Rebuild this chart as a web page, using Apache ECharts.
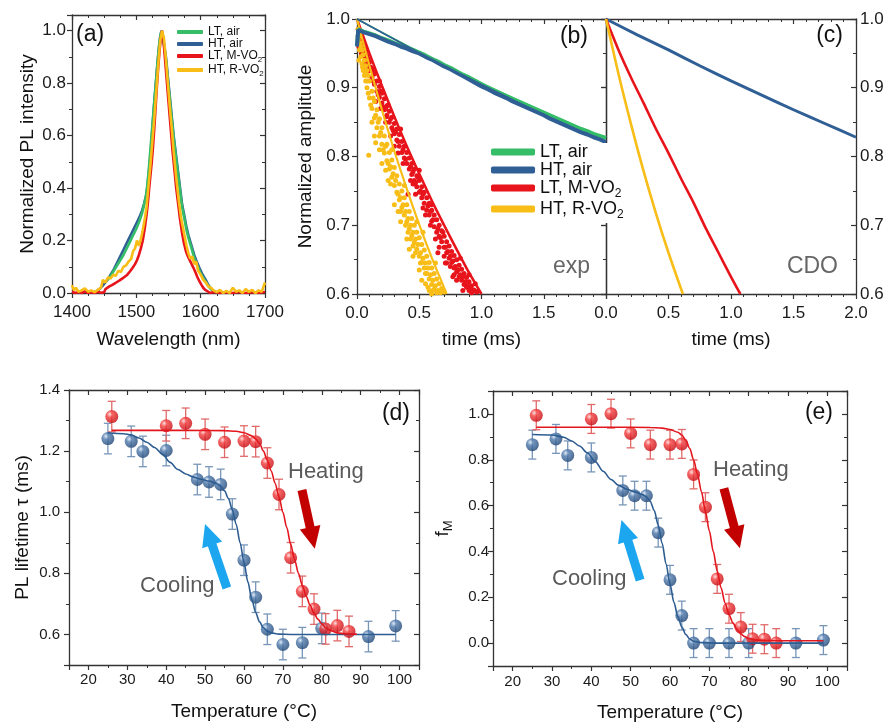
<!DOCTYPE html>
<html>
<head>
<meta charset="utf-8">
<title>PL spectra, decay and lifetime vs temperature</title>
<script src="https://cdn.jsdelivr.net/npm/echarts@6.0.0/dist/echarts.min.js"></script>
<style>
  html, body { margin: 0; padding: 0; background: #fff; }
  #chart { width: 887px; height: 723px; }
</style>
</head>
<body>
<div id="chart"></div>
<script>
  // ---- (a) PL spectra [wavelength nm, normalized intensity]
  const specHTair = [[1430,0.0],[1435,0.003],[1440,0.01],[1445,0.02],[1450,0.035],[1455,0.05],[1460,0.07],[1465,0.09],[1470,0.115],[1475,0.14],[1480,0.165],[1485,0.19],[1490,0.215],[1495,0.24],[1500,0.265],[1505,0.29],[1509,0.315],[1512,0.34],[1515,0.37],[1517,0.4],[1519,0.45],[1521,0.5],[1523,0.56],[1525,0.63],[1527,0.7],[1529,0.76],[1531,0.82],[1533,0.88],[1535,0.93],[1537,0.975],[1539,1.0],[1541,0.985],[1543,0.95],[1546,0.9],[1548,0.85],[1550,0.8],[1552,0.75],[1554,0.7],[1556,0.65],[1558,0.6],[1561,0.54],[1563,0.5],[1566,0.44],[1568,0.4],[1571,0.34],[1575,0.29],[1578,0.25],[1581,0.22],[1584,0.195],[1587,0.17],[1590,0.145],[1593,0.125],[1596,0.108],[1599,0.09],[1602,0.075],[1606,0.058],[1609,0.045],[1612,0.03],[1615,0.02],[1619,0.01],[1622,0.004],[1626,0.0]];
  const specLTair = [[1455,0.05],[1460,0.065],[1465,0.085],[1470,0.105],[1475,0.125],[1480,0.145],[1485,0.17],[1490,0.195],[1495,0.22],[1500,0.245],[1505,0.275],[1509,0.305],[1512,0.335],[1515,0.37],[1517,0.41],[1519,0.46],[1521,0.52],[1523,0.58],[1525,0.64],[1527,0.7],[1529,0.76],[1531,0.82],[1533,0.88],[1535,0.935],[1537,0.975],[1539,0.998],[1541,0.98],[1543,0.945],[1546,0.89],[1548,0.84],[1550,0.79],[1552,0.74],[1554,0.69],[1556,0.64],[1558,0.59],[1561,0.53],[1563,0.49],[1566,0.43],[1568,0.39],[1571,0.33],[1575,0.28],[1578,0.24],[1581,0.21],[1584,0.185],[1587,0.16],[1590,0.135],[1593,0.115],[1596,0.098],[1599,0.08],[1602,0.066],[1606,0.05],[1609,0.038],[1612,0.026],[1615,0.017],[1619,0.008],[1622,0.003]];
  const specLTMVO2 = [[1400,0.005],[1405,0.0],[1410,0.004],[1415,0.0],[1420,0.006],[1425,0.0],[1430,0.003],[1435,0.0],[1440,0.005],[1445,0.001],[1450,0.003],[1452,0.015],[1455,0.02],[1458,0.025],[1462,0.03],[1466,0.036],[1470,0.042],[1474,0.048],[1478,0.055],[1482,0.062],[1486,0.07],[1490,0.082],[1494,0.095],[1498,0.11],[1501,0.125],[1504,0.145],[1507,0.17],[1510,0.2],[1513,0.245],[1516,0.3],[1518,0.345],[1520,0.4],[1522,0.45],[1524,0.5],[1526,0.56],[1528,0.63],[1530,0.71],[1532,0.79],[1534,0.86],[1536,0.92],[1538,0.97],[1540,1.0],[1542,0.97],[1544,0.91],[1546,0.85],[1548,0.79],[1550,0.73],[1552,0.67],[1554,0.61],[1556,0.55],[1558,0.5],[1560,0.45],[1562,0.4],[1565,0.34],[1568,0.28],[1571,0.23],[1574,0.19],[1577,0.16],[1580,0.14],[1583,0.125],[1586,0.11],[1589,0.095],[1592,0.078],[1595,0.06],[1598,0.045],[1601,0.032],[1604,0.02],[1607,0.012],[1610,0.005],[1615,0.0],[1620,0.004],[1630,0.0],[1640,0.003],[1650,0.0],[1660,0.004],[1670,0.0],[1680,0.003],[1690,0.0],[1700,0.004]];
  const specHTRVO2 = [[1400,0.03],[1403,0.01],[1406,0.02],[1410,0.005],[1415,0.01],[1420,0.018],[1425,0.005],[1430,0.01],[1435,0.003],[1440,0.012],[1445,0.02],[1448,0.05],[1452,0.04],[1456,0.06],[1460,0.055],[1464,0.07],[1468,0.065],[1472,0.085],[1476,0.08],[1480,0.1],[1484,0.105],[1488,0.12],[1492,0.13],[1495,0.16],[1498,0.17],[1501,0.2],[1504,0.18],[1507,0.205],[1510,0.24],[1513,0.28],[1516,0.33],[1519,0.41],[1522,0.49],[1525,0.58],[1528,0.67],[1531,0.77],[1534,0.87],[1537,0.96],[1540,1.0],[1543,0.97],[1546,0.89],[1549,0.8],[1552,0.71],[1555,0.63],[1558,0.54],[1562,0.44],[1566,0.35],[1570,0.28],[1574,0.23],[1578,0.18],[1581,0.15],[1584,0.13],[1587,0.14],[1590,0.11],[1593,0.12],[1596,0.085],[1600,0.07],[1604,0.05],[1608,0.04],[1612,0.025],[1616,0.02],[1620,0.01],[1625,0.003],[1630,0.012],[1635,0.0],[1640,0.008],[1645,0.0],[1650,0.02],[1655,0.005],[1660,0.01],[1665,0.0],[1670,0.015],[1675,0.004],[1680,0.012],[1685,0.0],[1690,0.01],[1695,0.005],[1700,0.04]];

  // ---- (b) measured decays [time ms, normalized amplitude]
  const expLTair = [[0,0.962],[0.01,0.985],[0.05,0.982],[0.1,0.979],[0.15,0.976],[0.2,0.972],[0.25,0.969],[0.3,0.965],[0.35,0.962],[0.4,0.958],[0.45,0.955],[0.5,0.951],[0.55,0.947],[0.6,0.942],[0.65,0.938],[0.7,0.933],[0.75,0.929],[0.8,0.924],[0.85,0.919],[0.9,0.915],[0.95,0.91],[1.0,0.905],[1.05,0.9],[1.1,0.896],[1.15,0.892],[1.2,0.888],[1.25,0.884],[1.3,0.88],[1.35,0.876],[1.4,0.872],[1.45,0.868],[1.5,0.864],[1.55,0.86],[1.6,0.856],[1.65,0.852],[1.7,0.848],[1.75,0.844],[1.8,0.84],[1.85,0.837],[1.9,0.833],[1.95,0.83],[2.0,0.827]];
  const expHTair = [[0,0.96],[0.01,0.984],[0.05,0.981],[0.1,0.978],[0.15,0.975],[0.2,0.971],[0.25,0.967],[0.3,0.964],[0.35,0.96],[0.4,0.957],[0.45,0.953],[0.5,0.95],[0.55,0.945],[0.6,0.941],[0.65,0.936],[0.7,0.931],[0.75,0.927],[0.8,0.922],[0.85,0.917],[0.9,0.912],[0.95,0.907],[1.0,0.902],[1.05,0.898],[1.1,0.893],[1.15,0.889],[1.2,0.885],[1.25,0.88],[1.3,0.876],[1.35,0.872],[1.4,0.868],[1.45,0.864],[1.5,0.86],[1.55,0.855],[1.6,0.851],[1.65,0.847],[1.7,0.843],[1.75,0.839],[1.8,0.835],[1.85,0.832],[1.9,0.828],[1.95,0.825],[2.0,0.821]];
  const fitLTair = [[0,1.0],[0.5,0.952],[1.0,0.907],[1.5,0.865],[2.0,0.826]];
  const fitHTair = [[0,1.0],[0.5,0.951],[1.0,0.905],[1.5,0.861],[2.0,0.82]];
  const expLTMVO2 = [[0.01,0.985],[0.01,0.975],[0.02,0.97],[0.02,0.98],[0.03,0.962],[0.03,0.975],[0.04,0.958],[0.04,0.968],[0.05,0.952],[0.05,0.963],[0.05,0.93],[0.06,0.946],[0.06,0.958],[0.07,0.94],[0.07,0.953],[0.08,0.936],[0.08,0.947],[0.09,0.93],[0.09,0.942],[0.1,0.925],[0.1,0.937],[0.12,0.915],[0.12,0.928],[0.14,0.905],[0.14,0.92],[0.15,0.88],[0.16,0.895],[0.16,0.91],[0.18,0.886],[0.18,0.902],[0.18,0.91],[0.2,0.878],[0.2,0.892],[0.22,0.868],[0.22,0.884],[0.24,0.86],[0.24,0.874],[0.25,0.875],[0.26,0.85],[0.26,0.866],[0.28,0.842],[0.28,0.857],[0.3,0.833],[0.3,0.848],[0.3,0.815],[0.32,0.824],[0.32,0.84],[0.34,0.815],[0.34,0.832],[0.35,0.84],[0.36,0.806],[0.36,0.822],[0.38,0.798],[0.38,0.815],[0.4,0.79],[0.4,0.806],[0.41,0.745],[0.42,0.782],[0.42,0.798],[0.44,0.774],[0.44,0.79],[0.45,0.76],[0.46,0.765],[0.46,0.782],[0.48,0.756],[0.48,0.772],[0.5,0.748],[0.5,0.765],[0.5,0.78],[0.52,0.74],[0.52,0.756],[0.54,0.732],[0.54,0.748],[0.55,0.715],[0.56,0.722],[0.56,0.74],[0.58,0.715],[0.58,0.732],[0.6,0.706],[0.6,0.722],[0.6,0.73],[0.62,0.698],[0.62,0.715],[0.63,0.68],[0.64,0.69],[0.64,0.708],[0.66,0.684],[0.66,0.7],[0.66,0.668],[0.68,0.676],[0.68,0.692],[0.69,0.69],[0.7,0.668],[0.7,0.684],[0.7,0.655],[0.72,0.66],[0.72,0.676],[0.72,0.645],[0.74,0.652],[0.74,0.67],[0.75,0.64],[0.76,0.646],[0.76,0.662],[0.78,0.638],[0.78,0.656],[0.78,0.628],[0.8,0.632],[0.8,0.65],[0.8,0.62],[0.82,0.625],[0.82,0.642],[0.83,0.652],[0.84,0.62],[0.84,0.636],[0.85,0.605],[0.86,0.614],[0.86,0.63],[0.88,0.61],[0.88,0.624],[0.9,0.605],[0.9,0.618],[0.9,0.628],[0.92,0.602],[0.92,0.612],[0.94,0.606],[0.95,0.615],[0.96,0.603],
    [0.015,0.96],[0.035,0.95],[0.065,0.935],[0.085,0.925],[0.11,0.93],[0.13,0.91],[0.135,0.925],[0.17,0.89],[0.19,0.895],[0.21,0.872],[0.23,0.87],[0.235,0.858],[0.27,0.855],[0.29,0.838],[0.31,0.836],[0.33,0.822],[0.37,0.81],[0.39,0.796],[0.43,0.785],[0.45,0.778],[0.47,0.762],[0.49,0.77],[0.51,0.75],[0.53,0.745],[0.57,0.728],[0.59,0.72],[0.61,0.708],[0.65,0.695],[0.67,0.682],[0.71,0.668],[0.73,0.662],[0.75,0.655],[0.77,0.648],[0.79,0.64],[0.81,0.635],[0.83,0.628],[0.85,0.625],[0.87,0.618],[0.89,0.612],[0.91,0.61],[0.93,0.605],[0.97,0.604],[0.77,0.625],[0.71,0.645],[0.65,0.66],[0.59,0.7],[0.53,0.725],[0.47,0.745],[0.43,0.765],[0.37,0.79],[0.33,0.805],[0.27,0.83],[0.23,0.85],[0.19,0.87]];
  const expHTRVO2 = [[0.01,0.97],[0.01,0.985],[0.02,0.955],[0.02,0.975],[0.03,0.945],[0.03,0.96],[0.04,0.935],[0.04,0.955],[0.05,0.925],[0.05,0.948],[0.06,0.918],[0.06,0.94],[0.07,0.91],[0.07,0.932],[0.08,0.9],[0.08,0.925],[0.09,0.892],[0.09,0.918],[0.094,0.802],[0.1,0.885],[0.1,0.91],[0.12,0.87],[0.12,0.895],[0.12,0.85],[0.14,0.856],[0.14,0.88],[0.15,0.82],[0.16,0.842],[0.16,0.868],[0.18,0.83],[0.18,0.855],[0.2,0.818],[0.2,0.842],[0.2,0.79],[0.22,0.805],[0.22,0.83],[0.24,0.794],[0.24,0.818],[0.25,0.765],[0.26,0.782],[0.26,0.806],[0.28,0.77],[0.28,0.795],[0.28,0.81],[0.3,0.758],[0.3,0.784],[0.3,0.73],[0.32,0.748],[0.32,0.772],[0.33,0.72],[0.34,0.737],[0.34,0.76],[0.35,0.705],[0.36,0.726],[0.36,0.75],[0.38,0.715],[0.38,0.74],[0.38,0.758],[0.4,0.705],[0.4,0.73],[0.4,0.68],[0.42,0.695],[0.42,0.72],[0.42,0.665],[0.44,0.685],[0.44,0.71],[0.45,0.655],[0.46,0.675],[0.46,0.7],[0.48,0.665],[0.48,0.69],[0.48,0.705],[0.5,0.655],[0.5,0.682],[0.5,0.635],[0.52,0.646],[0.52,0.672],[0.52,0.62],[0.53,0.69],[0.54,0.638],[0.54,0.664],[0.55,0.615],[0.56,0.63],[0.56,0.655],[0.58,0.622],[0.58,0.646],[0.58,0.605],[0.6,0.614],[0.6,0.638],[0.6,0.6],[0.62,0.607],[0.62,0.63],[0.63,0.645],[0.64,0.602],[0.64,0.622],[0.66,0.615],[0.68,0.608],[0.7,0.603],
    [0.015,0.94],[0.025,0.965],[0.045,0.93],[0.065,0.92],[0.085,0.91],[0.11,0.875],[0.13,0.885],[0.15,0.86],[0.17,0.85],[0.19,0.835],[0.21,0.81],[0.23,0.815],[0.25,0.79],[0.27,0.785],[0.29,0.775],[0.31,0.765],[0.33,0.745],[0.35,0.74],[0.37,0.73],[0.39,0.72],[0.41,0.71],[0.43,0.7],[0.45,0.69],[0.47,0.68],[0.49,0.672],[0.51,0.66],[0.53,0.652],[0.55,0.645],[0.57,0.638],[0.59,0.628],[0.61,0.62],[0.63,0.612],[0.65,0.605],[0.67,0.602],[0.43,0.68],[0.47,0.66],[0.51,0.645],[0.55,0.63],[0.39,0.7],[0.35,0.72],[0.27,0.76],[0.23,0.78],[0.18,0.81],[0.14,0.83],[0.57,0.61],[0.61,0.605],[0.45,0.67],[0.41,0.69]];
  const fitLTMVO2 = [[0,1.0],[0.1,0.95],[0.2,0.903],[0.3,0.858],[0.4,0.815],[0.5,0.775],[0.6,0.736],[0.7,0.7],[0.8,0.665],[0.9,0.631],[1.0,0.6]];
  const fitHTRVO2 = [[0,1.0],[0.1,0.932],[0.2,0.868],[0.3,0.808],[0.4,0.753],[0.5,0.701],[0.6,0.653],[0.7,0.609],[0.72,0.6]];

  // ---- (c) CDO model decays
  const cdoHTair = [[0,1.0],[0.25,0.977],[0.5,0.955],[0.75,0.932],[1.0,0.91],[1.25,0.889],[1.5,0.868],[1.75,0.848],[2.0,0.828]];
  const cdoLTMVO2 = [[0,1.0],[0.1,0.955],[0.2,0.915],[0.3,0.878],[0.4,0.84],[0.5,0.805],[0.6,0.768],[0.7,0.733],[0.8,0.695],[0.9,0.66],[1.0,0.625],[1.075,0.6]];
  const cdoHTRVO2 = [[0,1.0],[0.1,0.92],[0.2,0.847],[0.3,0.779],[0.4,0.717],[0.5,0.66],[0.615,0.6]];

  // ---- (d), (e) temperature cycles
  const heatTemp = [26, 40, 45, 50, 55, 60, 63, 66, 69, 72, 75, 78, 81, 84, 87];
  const coolTemp = [25, 31, 34, 40, 48, 51, 54, 57, 60, 63, 66, 70, 75, 80, 92, 99];
  const tauHeat = [1.313, 1.283, 1.291, 1.255, 1.229, 1.233, 1.231, 1.161, 1.058, 0.851, 0.741, 0.683, 0.618, 0.629, 0.610];
  const tauCool = [1.241, 1.232, 1.199, 1.202, 1.107, 1.099, 1.091, 0.994, 0.843, 0.722, 0.617, 0.567, 0.573, 0.620, 0.593, 0.628];
  const tauHeatErr = [0.05, 0.05, 0.05, 0.05, 0.05, 0.05, 0.05, 0.05, 0.05, 0.05, 0.05, 0.05, 0.05, 0.05, 0.05];
  const tauCoolErr = [0.05, 0.05, 0.05, 0.05, 0.05, 0.05, 0.05, 0.05, 0.05, 0.05, 0.05, 0.05, 0.05, 0.05, 0.05, 0.05];
  const fmHeat = [0.994, 0.978, 1.001, 0.915, 0.866, 0.866, 0.869, 0.736, 0.593, 0.28, 0.15, 0.07, 0.019, 0.017, 0.0];
  const fmCool = [0.866, 0.891, 0.819, 0.81, 0.666, 0.643, 0.643, 0.482, 0.276, 0.12, 0.0, 0.0, 0.0, 0.0, 0.0, 0.013];
  const fmHeatErr = [0.063, 0.063, 0.063, 0.063, 0.063, 0.063, 0.063, 0.063, 0.063, 0.063, 0.063, 0.063, 0.063, 0.063, 0.063];
  const fmCoolErr = [0.063, 0.063, 0.063, 0.063, 0.063, 0.063, 0.063, 0.063, 0.063, 0.063, 0.063, 0.063, 0.063, 0.063, 0.063, 0.063];
  const tauHeatFit = [[26,1.268],[35,1.268],[45,1.268],[55,1.267],[58,1.265],[60,1.26],[62,1.25],[63,1.24],[64,1.225],[65,1.2],[66,1.17],[67,1.135],[68,1.095],[69,1.05],[70,1.0],[71,0.95],[72,0.895],[73,0.845],[74,0.8],[75,0.76],[76,0.725],[77,0.695],[78,0.67],[79,0.65],[80,0.635],[81,0.622],[82,0.614],[84,0.605],[86,0.602],[89,0.601]];
  const tauCoolFit = [[25,1.26],[29,1.257],[31,1.253],[33,1.243],[35,1.229],[37,1.212],[39,1.19],[41,1.163],[43,1.14],[45,1.125],[47,1.115],[49,1.108],[51,1.102],[53,1.094],[54,1.085],[55,1.07],[56,1.045],[57,1.008],[58,0.96],[59,0.9],[60,0.835],[61,0.772],[62,0.715],[63,0.672],[64,0.641],[65,0.622],[66,0.611],[67,0.605],[69,0.601],[72,0.6],[99,0.6]];
  const fmHeatFit = [[26,0.942],[35,0.942],[45,0.942],[55,0.941],[58,0.938],[60,0.932],[62,0.92],[63,0.908],[64,0.885],[65,0.85],[66,0.8],[67,0.735],[68,0.66],[69,0.575],[70,0.49],[71,0.4],[72,0.315],[73,0.24],[74,0.175],[75,0.125],[76,0.088],[77,0.06],[78,0.04],[79,0.028],[80,0.02],[82,0.013],[85,0.011],[90,0.01],[99,0.01]];
  const fmCoolFit = [[25,0.91],[30,0.908],[33,0.898],[35,0.882],[37,0.86],[39,0.83],[41,0.792],[43,0.75],[45,0.714],[47,0.688],[49,0.671],[51,0.66],[53,0.648],[54,0.638],[55,0.618],[56,0.578],[57,0.515],[58,0.435],[59,0.345],[60,0.258],[61,0.178],[62,0.115],[63,0.07],[64,0.038],[65,0.018],[66,0.008],[68,0.002],[72,0],[99,0]];

  const FONT = "'Liberation Sans', Arial, sans-serif";
  const GREEN = '#35bd68', BLUE = '#2f5f95', RED = '#e8141c', YELLOW = '#f8bd16';

  const chart = echarts.init(document.getElementById('chart'), null, { renderer: 'canvas' });

  const fmt1 = v => v.toFixed(1);

  function mkAxis(o) {
    const mirror = o.pos === 'top' || o.pos === 'right';
    return {
      type: 'value', gridIndex: o.grid, position: o.pos,
      min: o.min, max: o.max, interval: o.interval, splitNumber: o.split,
      name: o.name || '', nameLocation: 'middle', nameGap: o.nameGap || 0,
      nameTextStyle: { fontSize: 19, color: '#111', fontFamily: FONT, rich: o.rich },
      axisLine: { show: true, onZero: false, lineStyle: { color: '#333', width: 1.3 } },
      axisTick: { show: true, inside: mirror, length: 5, lineStyle: { color: '#333', width: 1.2 } },
      minorTick: { show: true, splitNumber: o.minor, length: 3, lineStyle: { color: '#333', width: 1 } },
      splitLine: { show: false },
      axisLabel: {
        show: !!o.labels, formatter: o.fmt, showMaxLabel: o.showMax,
        color: '#1a1a1a', fontSize: o.fs || 17, fontFamily: FONT, margin: o.margin || 8
      }
    };
  }

  const xAxes = [
    mkAxis({ grid: 0, pos: 'bottom', min: 1400, max: 1700, interval: 100, minor: 4, labels: true, margin: 11, fmt: v => String(v), name: 'Wavelength (nm)', nameGap: 37 }),
    mkAxis({ grid: 1, pos: 'bottom', min: 0, max: 2, interval: 0.5, minor: 5, labels: true, margin: 11, fmt: fmt1, showMax: false, name: 'time (ms)', nameGap: 36 }),
    mkAxis({ grid: 2, pos: 'bottom', min: 0, max: 2, interval: 0.5, minor: 5, labels: true, margin: 11, fmt: fmt1, name: 'time (ms)', nameGap: 36 }),
    mkAxis({ grid: 3, pos: 'bottom', min: 15, max: 105, split: 9, minor: 2, labels: true, fs: 15, margin: 7, fmt: v => (v < 16 || v > 104 ? '' : String(v)), name: 'Temperature (°C)', nameGap: 37 }),
    mkAxis({ grid: 4, pos: 'bottom', min: 15, max: 105, split: 9, minor: 2, labels: true, fs: 15, margin: 8, fmt: v => (v < 16 || v > 104 ? '' : String(v)), name: 'Temperature (°C)', nameGap: 37 }),
    mkAxis({ grid: 0, pos: 'top', min: 1400, max: 1700, interval: 100, minor: 4 }),
    mkAxis({ grid: 1, pos: 'top', min: 0, max: 2, interval: 0.5, minor: 5 }),
    mkAxis({ grid: 2, pos: 'top', min: 0, max: 2, interval: 0.5, minor: 5 }),
    mkAxis({ grid: 3, pos: 'top', min: 15, max: 105, split: 9, minor: 2 }),
    mkAxis({ grid: 4, pos: 'top', min: 15, max: 105, split: 9, minor: 2 })
  ];
  const yAxes = [
    mkAxis({ grid: 0, pos: 'left', min: 0, max: 1.06, interval: 0.2, minor: 2, labels: true, margin: 6, fmt: v => (v > 1.01 ? '' : v.toFixed(1)), name: 'Normalized PL intensity', nameGap: 35 }),
    mkAxis({ grid: 1, pos: 'left', min: 0.6, max: 1.0, interval: 0.1, minor: 2, labels: true, margin: 7, fmt: fmt1, name: 'Normalized amplitude', nameGap: 42 }),
    mkAxis({ grid: 2, pos: 'left', min: 0.6, max: 1.0, interval: 0.1, minor: 2 }),
    mkAxis({ grid: 3, pos: 'left', min: 0.5, max: 1.4, split: 4, minor: 2, labels: true, fs: 15, margin: 9, fmt: v => (v < 0.55 ? '' : v.toFixed(1)), name: 'PL lifetime τ (ms)', nameGap: 37 }),
    mkAxis({ grid: 4, pos: 'left', min: -0.1, max: 1.1, split: 6, minor: 2, labels: true, fs: 15, margin: 4, fmt: v => (v < -0.05 || v > 1.05 ? '' : v.toFixed(1)), name: '{b|f}{s|M}', nameGap: 38,
      rich: { b: { fontSize: 19, lineHeight: 24, fontFamily: FONT, color: '#111' }, s: { fontSize: 13, lineHeight: 13, verticalAlign: 'bottom', fontFamily: FONT, color: '#111' } } }),
    mkAxis({ grid: 0, pos: 'right', min: 0, max: 1.06, interval: 0.2, minor: 2 }),
    mkAxis({ grid: 1, pos: 'right', min: 0.6, max: 1.0, interval: 0.1, minor: 2 }),
    mkAxis({ grid: 2, pos: 'right', min: 0.6, max: 1.0, interval: 0.1, minor: 2, labels: true, margin: 4, fmt: fmt1 }),
    mkAxis({ grid: 3, pos: 'right', min: 0.5, max: 1.4, split: 4, minor: 2 }),
    mkAxis({ grid: 4, pos: 'right', min: -0.1, max: 1.1, split: 6, minor: 2 })
  ];

  function line(name, grid, data, color, width, smooth) {
    return {
      name, type: 'line', xAxisIndex: grid, yAxisIndex: grid, data,
      showSymbol: false, symbol: 'none', smooth: smooth ? 0.3 : false,
      lineStyle: { color, width }, itemStyle: { color }, silent: true
    };
  }
  function dots(name, grid, data, color, size) {
    return {
      name, type: 'scatter', xAxisIndex: grid, yAxisIndex: grid, data,
      symbolSize: size, itemStyle: { color, opacity: 1 }, silent: true
    };
  }
  function errorBars(grid, temps, vals, errs, color) {
    return {
      type: 'custom', xAxisIndex: grid, yAxisIndex: grid, silent: true,
      encode: { x: 0, y: [1, 2] },
      data: temps.map((t, i) => [t, vals[i] - errs[i], vals[i] + errs[i]]),
      renderItem(params, api) {
        const lo = api.coord([api.value(0), api.value(1)]);
        const hi = api.coord([api.value(0), api.value(2)]);
        const w = 4;
        const st = { stroke: color, lineWidth: 1.3 };
        return {
          type: 'group', children: [
            { type: 'line', shape: { x1: lo[0], y1: lo[1], x2: hi[0], y2: hi[1] }, style: st },
            { type: 'line', shape: { x1: lo[0] - w, y1: lo[1], x2: lo[0] + w, y2: lo[1] }, style: st },
            { type: 'line', shape: { x1: hi[0] - w, y1: hi[1], x2: hi[0] + w, y2: hi[1] }, style: st }
          ]
        };
      }
    };
  }
  const ballRed = { type: 'radial', x: 0.35, y: 0.32, r: 0.7, colorStops: [{ offset: 0, color: '#ffd6d6' }, { offset: 0.35, color: '#f23a3a' }, { offset: 1, color: '#c40a10' }] };
  const ballBlue = { type: 'radial', x: 0.35, y: 0.32, r: 0.7, colorStops: [{ offset: 0, color: '#d6e4f4' }, { offset: 0.35, color: '#4d78aa' }, { offset: 1, color: '#1f4676' }] };
  function balls(grid, temps, vals, color) {
    return {
      type: 'scatter', xAxisIndex: grid, yAxisIndex: grid, silent: true,
      data: temps.map((t, i) => [t, vals[i]]), symbolSize: 13, itemStyle: { color }
    };
  }
  function arrow(from, to, color) {
    return {
      silent: true, symbol: ['none', 'triangle'], symbolSize: [21, 22], animation: false,
      label: { show: false }, emphasis: { disabled: true },
      lineStyle: { color, width: 9, type: 'solid', opacity: 1 },
      data: [[{ coord: from }, { coord: to }]]
    };
  }

  const heatFitD = line('heatD', 3, tauHeatFit, '#e3161d', 1.6, true);
  heatFitD.smoothMonotone = 'x';
  heatFitD.markLine = arrow([74.9, 1.073], [77.6, 0.916], '#c20000');
  const coolFitD = line('coolD', 3, tauCoolFit, '#2d5c91', 1.6, true);
  coolFitD.smoothMonotone = 'x';
  coolFitD.markLine = arrow([55.6, 0.752], [50.9, 0.927], '#1ca6ef');
  const heatFitE = line('heatE', 4, fmHeatFit, '#e3161d', 1.6, true);
  heatFitE.smoothMonotone = 'x';
  heatFitE.markLine = arrow([73.7, 0.675], [77.05, 0.46], '#c20000');
  const coolFitE = line('coolE', 4, fmCoolFit, '#2d5c91', 1.6, true);
  coolFitE.smoothMonotone = 'x';
  coolFitE.markLine = arrow([52.4, 0.275], [48.5, 0.491], '#1ca6ef');

  const series = [
    // (a)
    line('HT, air', 0, specHTair, BLUE, 2.6),
    line('LT, air', 0, specLTair, GREEN, 2.6),
    line('LT, M-VO2', 0, specLTMVO2, RED, 2.6),
    line('HT, R-VO2', 0, specHTRVO2, YELLOW, 2.6),
    // (b)
    dots('LT, M-VO2', 1, expLTMVO2, RED, 5),
    dots('HT, R-VO2', 1, expHTRVO2, YELLOW, 5),
    line('LT, M-VO2', 1, fitLTMVO2, RED, 2.6, true),
    line('HT, R-VO2', 1, fitHTRVO2, YELLOW, 2.2, true),
    line('LT, air', 1, expLTair, GREEN, 4),
    line('HT, air', 1, expHTair, BLUE, 4),
    line('LT, air', 1, fitLTair, GREEN, 1.5, true),
    line('HT, air', 1, fitHTair, BLUE, 1.5, true),
    // (c)
    line('HT, air', 2, cdoHTair, BLUE, 3, true),
    line('LT, M-VO2', 2, cdoLTMVO2, RED, 2.6, true),
    line('HT, R-VO2', 2, cdoHTRVO2, YELLOW, 2.6, true),
    // (d)
    errorBars(3, coolTemp, tauCool, tauCoolErr, '#7896b8'),
    errorBars(3, heatTemp, tauHeat, tauHeatErr, '#e06a6a'),
    coolFitD, heatFitD,
    balls(3, coolTemp, tauCool, ballBlue),
    balls(3, heatTemp, tauHeat, ballRed),
    // (e)
    errorBars(4, coolTemp, fmCool, fmCoolErr, '#7896b8'),
    errorBars(4, heatTemp, fmHeat, fmHeatErr, '#e06a6a'),
    coolFitE, heatFitE,
    balls(4, coolTemp, fmCool, ballBlue),
    balls(4, heatTemp, fmHeat, ballRed)
  ];

  const legendNames = ['LT, air', 'HT, air', 'LT, M-VO2', 'HT, R-VO2'];
  const legendFmt = name => '{b|' + name.replace('VO2', 'VO') + '}' + (name.endsWith('VO2') ? '{s|2}' : '');

  function label(text, x, y, size, color, align) {
    return {
      type: 'text', x, y, silent: true,
      style: { text, font: size + 'px ' + FONT, fill: color, align: align || 'left', verticalAlign: 'middle' }
    };
  }

  chart.setOption({
    animation: false,
    backgroundColor: '#fff',
    grid: [
      { left: 72, top: 15, width: 193, height: 278 },
      { left: 357, top: 19, width: 249, height: 275 },
      { left: 606, top: 19, width: 250, height: 275 },
      { left: 69, top: 390, width: 350, height: 275 },
      { left: 493, top: 391, width: 354, height: 275 }
    ],
    xAxis: xAxes,
    yAxis: yAxes,
    legend: [
      {
        data: legendNames, orient: 'vertical', left: 177, top: 26, padding: 0, itemGap: 0,
        icon: 'roundRect', itemWidth: 26, itemHeight: 4, selectedMode: false,
        formatter: legendFmt,
        textStyle: {
          color: '#111', fontFamily: FONT,
          rich: {
            b: { fontSize: 12, lineHeight: 16, fontFamily: FONT, color: '#111' },
            s: { fontSize: 8, lineHeight: 8, verticalAlign: 'bottom', fontFamily: FONT, color: '#111' }
          }
        }
      },
      {
        data: legendNames, orient: 'vertical', left: 491, top: 143, padding: [0, 4, 2, 0], itemGap: 0,
        backgroundColor: '#fff', z: 10,
        icon: 'roundRect', itemWidth: 44, itemHeight: 7, selectedMode: false,
        formatter: legendFmt,
        textStyle: {
          color: '#111', fontFamily: FONT,
          rich: {
            b: { fontSize: 18, lineHeight: 24, fontFamily: FONT, color: '#111' },
            s: { fontSize: 12, lineHeight: 12, verticalAlign: 'bottom', fontFamily: FONT, color: '#111' }
          }
        }
      }
    ],
    graphic: [
      label('(a)', 76, 35, 23, '#111'),
      label('(b)', 588, 37, 23, '#111', 'right'),
      label('(c)', 843, 36, 23, '#111', 'right'),
      label('exp', 590, 267, 23, '#666', 'right'),
      label('CDO', 838, 267, 23, '#666', 'right'),
      label('(d)', 410, 414, 23, '#111', 'right'),
      label('(e)', 833, 413, 23, '#111', 'right'),
      label('Heating', 288, 472, 22, '#5a5a5a'),
      label('Cooling', 140, 586, 22, '#5a5a5a'),
      label('Heating', 713, 470, 22, '#5a5a5a'),
      label('Cooling', 552, 579, 22, '#5a5a5a')
    ],
    series
  });
</script>
</body>
</html>
